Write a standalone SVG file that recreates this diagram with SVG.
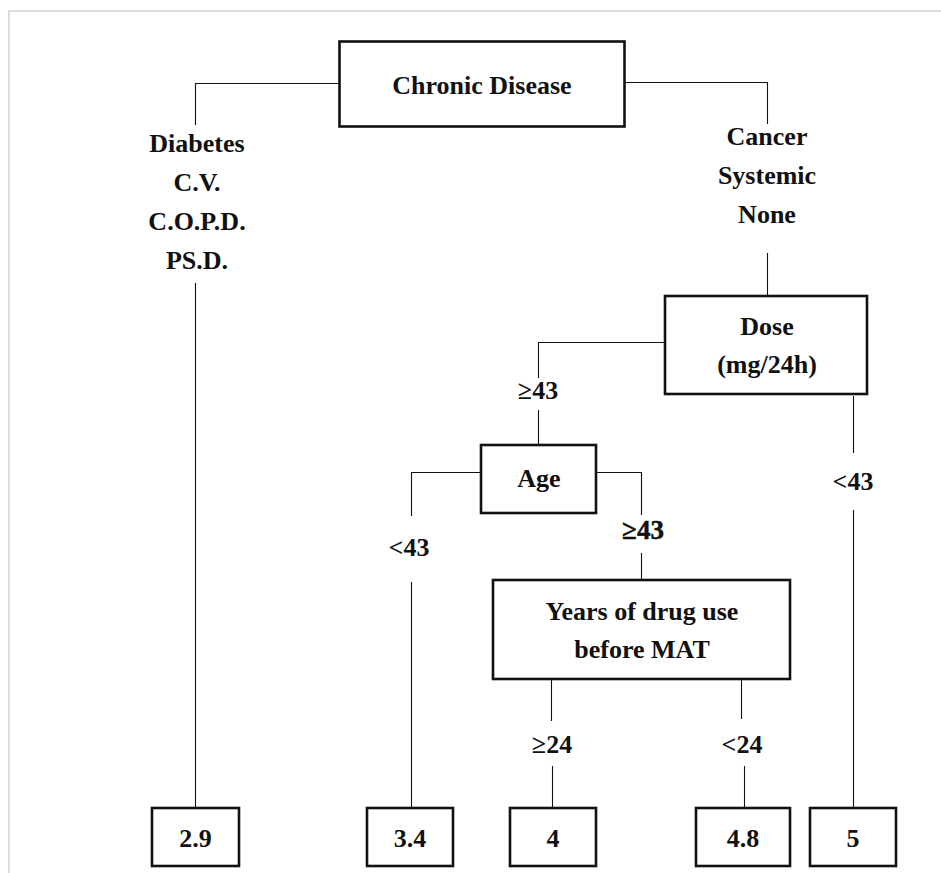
<svg xmlns="http://www.w3.org/2000/svg" width="941" height="873" viewBox="0 0 941 873">
<style>
.frame{fill:none;stroke:#dcdcdc;stroke-width:2}
.box{fill:#fff;stroke:#111;stroke-width:2.6}
.ln{fill:none;stroke:#111;stroke-width:1.1}
text{font-family:"Liberation Serif","Times New Roman",serif;font-weight:bold;font-size:26px;fill:#111;text-anchor:middle}
.big{font-size:27px;stroke:#111;stroke-width:0.5}
</style>
<rect width="941" height="873" fill="#fff"/>
<path class="frame" d="M9,873 V11 H941"/>
<g id="connectors">
<path class="ln" d="M339,83.5 H195.5 V125"/>
<path class="ln" d="M195.5,283 V808"/>
<path class="ln" d="M624,82.5 H767.5 V124"/>
<path class="ln" d="M767.5,253 V296"/>
<path class="ln" d="M665,342.5 H538.5 V378"/>
<path class="ln" d="M538.5,410 V445"/>
<path class="ln" d="M853.5,396 V453"/>
<path class="ln" d="M853.5,510 V808"/>
<path class="ln" d="M481,472.5 H411.5 V516"/>
<path class="ln" d="M411.5,582 V808"/>
<path class="ln" d="M596,472.5 H641.5 V515"/>
<path class="ln" d="M641.5,553 V580"/>
<path class="ln" d="M551.5,679 V721"/>
<path class="ln" d="M552.5,766 V808"/>
<path class="ln" d="M741.5,679 V719"/>
<path class="ln" d="M744.5,766 V808"/>
</g>
<g id="chronic">
<rect class="box" x="339.5" y="41.5" width="285" height="85"/>
<text x="482" y="94">Chronic Disease</text>
</g>
<g id="left-branch">
<text x="197" y="152">Diabetes</text>
<text x="197" y="191">C.V.</text>
<text x="197" y="230">C.O.P.D.</text>
<text x="197" y="269">PS.D.</text>
</g>
<g id="right-branch">
<text x="767" y="145">Cancer</text>
<text x="767" y="184">Systemic</text>
<text x="767" y="223">None</text>
</g>
<g id="dose">
<rect class="box" x="665" y="296" width="202" height="98"/>
<text x="767" y="335">Dose</text>
<text x="767" y="373">(mg/24h)</text>
</g>
<g id="dose-labels">
<text x="538" y="399">≥43</text>
<text x="853" y="490">&lt;43</text>
</g>
<g id="age">
<rect class="box" x="481" y="445" width="115" height="68"/>
<text x="539" y="487">Age</text>
</g>
<g id="age-labels">
<text x="409" y="556">&lt;43</text>
<text class="big" x="643" y="539">≥43</text>
</g>
<g id="years">
<rect class="box" x="493" y="580" width="297" height="99"/>
<text x="642" y="620">Years of drug use</text>
<text x="642" y="658">before MAT</text>
</g>
<g id="years-labels">
<text x="552" y="753">≥24</text>
<text x="742" y="753">&lt;24</text>
</g>
<g id="leaf-29"><rect class="box" x="152" y="808" width="87" height="58"/><text x="195.5" y="847">2.9</text></g>
<g id="leaf-34"><rect class="box" x="367" y="808" width="86" height="58"/><text x="410" y="847">3.4</text></g>
<g id="leaf-4"><rect class="box" x="510" y="808" width="86" height="58"/><text x="553" y="847">4</text></g>
<g id="leaf-48"><rect class="box" x="696" y="808" width="94" height="58"/><text x="743" y="847">4.8</text></g>
<g id="leaf-5"><rect class="box" x="810" y="808" width="86" height="58"/><text x="853" y="847">5</text></g>
</svg>
